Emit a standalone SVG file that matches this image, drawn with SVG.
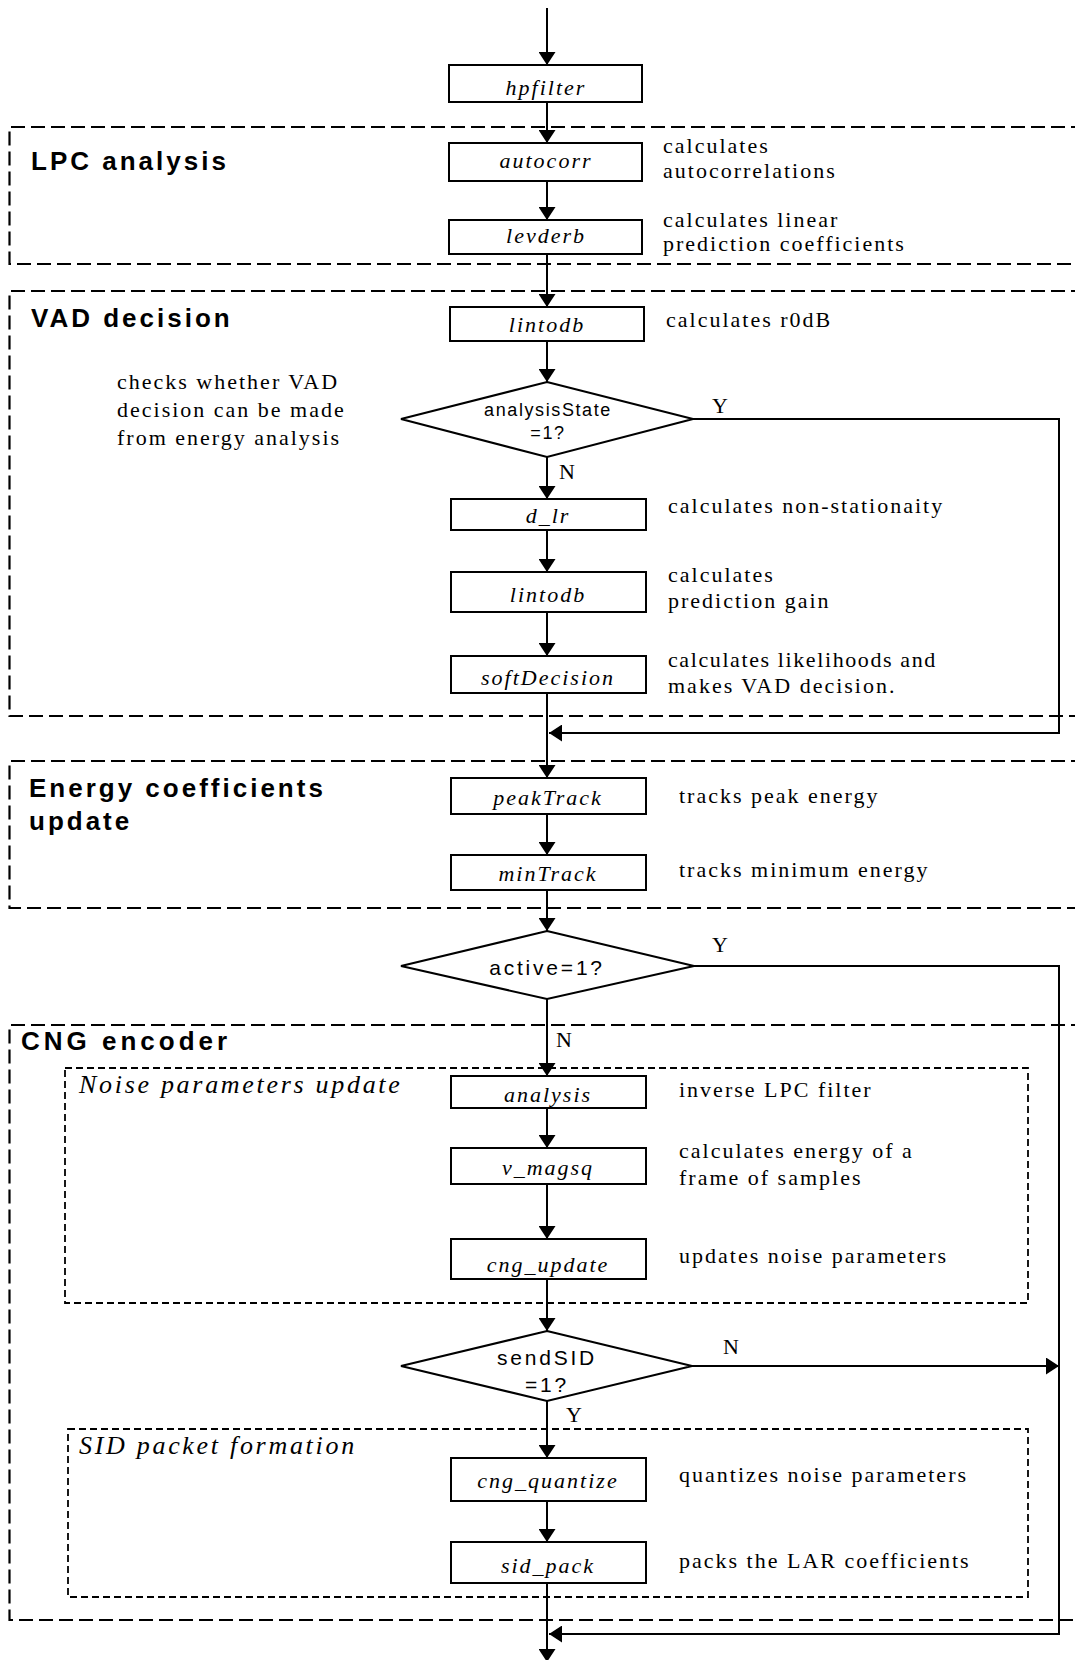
<svg xmlns="http://www.w3.org/2000/svg" width="1075" height="1660" viewBox="0 0 1075 1660">
  <defs>
    <marker id="arrow" markerUnits="userSpaceOnUse" markerWidth="17" markerHeight="17" viewBox="0 0 13 17" refX="13" refY="8.5" orient="auto">
      <path d="M0,0 L13,8.5 L0,17 z" fill="#000"/>
    </marker>
    <style>
      .section { fill: none; stroke: #000; stroke-width: 2.2; stroke-dasharray: 14 6; }
      .subsection { fill: none; stroke: #000; stroke-width: 1.8; stroke-dasharray: 7 4; }
      .box { fill: #fff; stroke: #000; stroke-width: 2; }
      .decision { fill: #fff; stroke: #000; stroke-width: 2; }
      .wire { fill: none; stroke: #000; stroke-width: 2; }
      .arrowed { marker-end: url(#arrow); }
      .title { font-family: "Liberation Sans", Arial, sans-serif; font-weight: bold; font-size: 26px; letter-spacing: 3px; fill: #000; }
      .subtitle { font-family: "Liberation Serif", "Times New Roman", serif; font-style: italic; font-size: 26px; letter-spacing: 2.7px; fill: #000; }
      .fn { font-family: "Liberation Serif", "Times New Roman", serif; font-style: italic; font-size: 22px; letter-spacing: 2px; text-anchor: middle; fill: #000; }
      .note { font-family: "Liberation Serif", "Times New Roman", serif; font-size: 22px; letter-spacing: 2px; fill: #000; }
      .cond { font-family: "Liberation Sans", Arial, sans-serif; font-size: 21px; letter-spacing: 2.8px; text-anchor: middle; fill: #000; }
      .cond-small { font-size: 18px; letter-spacing: 1.6px; }
      .yn { font-family: "Liberation Serif", "Times New Roman", serif; font-size: 22px; fill: #000; }
    </style>
  </defs>

  <!-- section frames (right side runs off the page) -->
  <g id="sections">
    <g id="sec-lpc">
      <path class="section" d="M1085,127 H9.5 V264 H1085"/>
      <text class="title" x="31" y="170">LPC analysis</text>
    </g>
    <g id="sec-vad">
      <path class="section" d="M1085,291 H9.5 V716 H1085"/>
      <text class="title" x="31" y="327">VAD decision</text>
      <text class="note" x="117" y="389">checks whether VAD</text>
      <text class="note" x="117" y="417">decision can be made</text>
      <text class="note" x="117" y="445">from energy analysis</text>
    </g>
    <g id="sec-energy">
      <path class="section" d="M1085,761 H9.5 V908 H1085"/>
      <text class="title" x="29" y="797">Energy coefficients</text>
      <text class="title" x="29" y="830">update</text>
    </g>
    <g id="sec-cng">
      <path class="section" d="M1085,1025 H9.5 V1620 H1085"/>
      <text class="title" x="21" y="1050" style="letter-spacing:4px">CNG encoder</text>
    </g>
    <g id="sec-noise">
      <rect class="subsection" x="65" y="1068" width="963" height="235"/>
      <text class="subtitle" x="79" y="1093">Noise parameters update</text>
    </g>
    <g id="sec-sid">
      <rect class="subsection" x="68" y="1429" width="960" height="168"/>
      <text class="subtitle" x="79" y="1454">SID packet formation</text>
    </g>
  </g>

  <!-- connectors -->
  <g id="connectors">
    <line class="wire arrowed" x1="547" y1="8" x2="547" y2="65"/>
    <line class="wire arrowed" x1="547" y1="102" x2="547" y2="143"/>
    <line class="wire arrowed" x1="547" y1="181" x2="547" y2="220"/>
    <line class="wire arrowed" x1="547" y1="254" x2="547" y2="307"/>
    <line class="wire arrowed" x1="547" y1="341" x2="547" y2="382"/>
    <line class="wire arrowed" x1="547" y1="457" x2="547" y2="499"/>
    <line class="wire arrowed" x1="547" y1="530" x2="547" y2="572"/>
    <line class="wire arrowed" x1="547" y1="612" x2="547" y2="656"/>
    <line class="wire arrowed" x1="547" y1="693" x2="547" y2="778"/>
    <polyline class="wire arrowed" points="693,419 1059,419 1059,733 549,733"/>
    <line class="wire arrowed" x1="547" y1="814" x2="547" y2="855"/>
    <line class="wire arrowed" x1="547" y1="890" x2="547" y2="931"/>
    <line class="wire arrowed" x1="547" y1="999" x2="547" y2="1076"/>
    <polyline class="wire arrowed" points="694,966 1059,966 1059,1634 549,1634"/>
    <line class="wire arrowed" x1="547" y1="1108" x2="547" y2="1148"/>
    <line class="wire arrowed" x1="547" y1="1184" x2="547" y2="1239"/>
    <line class="wire arrowed" x1="547" y1="1279" x2="547" y2="1331"/>
    <line class="wire arrowed" x1="692" y1="1366" x2="1059" y2="1366"/>
    <line class="wire arrowed" x1="547" y1="1401" x2="547" y2="1458"/>
    <line class="wire arrowed" x1="547" y1="1501" x2="547" y2="1542"/>
    <line class="wire arrowed" x1="547" y1="1583" x2="547" y2="1662"/>
    <text class="yn" x="712" y="413">Y</text>
    <text class="yn" x="559" y="479">N</text>
    <text class="yn" x="712" y="952">Y</text>
    <text class="yn" x="556" y="1047">N</text>
    <text class="yn" x="723" y="1354">N</text>
    <text class="yn" x="566" y="1422">Y</text>
  </g>

  <!-- processing blocks -->
  <g id="hpfilter">
    <rect class="box" x="449" y="65" width="193" height="37"/>
    <text class="fn" x="546" y="95">hpfilter</text>
  </g>
  <g id="autocorr">
    <rect class="box" x="449" y="143" width="193" height="38"/>
    <text class="fn" x="546" y="168">autocorr</text>
    <text class="note" x="663" y="153">calculates</text>
    <text class="note" x="663" y="178">autocorrelations</text>
  </g>
  <g id="levderb">
    <rect class="box" x="449" y="220" width="193" height="34"/>
    <text class="fn" x="546" y="243">levderb</text>
    <text class="note" x="663" y="227">calculates linear</text>
    <text class="note" x="663" y="251">prediction coefficients</text>
  </g>
  <g id="lintodb-r0db">
    <rect class="box" x="450" y="307" width="194" height="34"/>
    <text class="fn" x="547" y="332">lintodb</text>
    <text class="note" x="666" y="327">calculates  r0dB</text>
  </g>
  <g id="analysis-state">
    <polygon class="decision" points="547,382 693,419 547,457 401,419"/>
    <text class="cond cond-small" x="548" y="416">analysisState</text>
    <text class="cond cond-small" x="548" y="439">=1?</text>
  </g>
  <g id="d-lr">
    <rect class="box" x="451" y="499" width="195" height="31"/>
    <text class="fn" x="548" y="523">d_lr</text>
    <text class="note" x="668" y="513">calculates  non-stationaity</text>
  </g>
  <g id="lintodb-gain">
    <rect class="box" x="451" y="572" width="195" height="40"/>
    <text class="fn" x="548" y="602">lintodb</text>
    <text class="note" x="668" y="582">calculates</text>
    <text class="note" x="668" y="608">prediction gain</text>
  </g>
  <g id="soft-decision">
    <rect class="box" x="451" y="656" width="195" height="37"/>
    <text class="fn" x="548" y="685">softDecision</text>
    <text class="note" x="668" y="667" style="letter-spacing:1.6px">calculates likelihoods and</text>
    <text class="note" x="668" y="693">makes VAD decision.</text>
  </g>
  <g id="peak-track">
    <rect class="box" x="451" y="778" width="195" height="36"/>
    <text class="fn" x="548" y="805">peakTrack</text>
    <text class="note" x="679" y="803">tracks peak energy</text>
  </g>
  <g id="min-track">
    <rect class="box" x="451" y="855" width="195" height="35"/>
    <text class="fn" x="548" y="881">minTrack</text>
    <text class="note" x="679" y="877">tracks minimum energy</text>
  </g>
  <g id="active">
    <polygon class="decision" points="547,931 694,966 547,999 401,966"/>
    <text class="cond" x="547" y="975">active=1?</text>
  </g>
  <g id="analysis">
    <rect class="box" x="451" y="1076" width="195" height="32"/>
    <text class="fn" x="548" y="1102">analysis</text>
    <text class="note" x="679" y="1097">inverse LPC filter</text>
  </g>
  <g id="v-magsq">
    <rect class="box" x="451" y="1148" width="195" height="36"/>
    <text class="fn" x="548" y="1175">v_magsq</text>
    <text class="note" x="679" y="1158">calculates energy of a</text>
    <text class="note" x="679" y="1185">frame of samples</text>
  </g>
  <g id="cng-update">
    <rect class="box" x="451" y="1239" width="195" height="40"/>
    <text class="fn" x="548" y="1272">cng_update</text>
    <text class="note" x="679" y="1263">updates noise parameters</text>
  </g>
  <g id="send-sid">
    <polygon class="decision" points="547,1331 692,1366 547,1401 401,1366"/>
    <text class="cond" x="547" y="1365">sendSID</text>
    <text class="cond" x="547" y="1392">=1?</text>
  </g>
  <g id="cng-quantize">
    <rect class="box" x="451" y="1458" width="195" height="43"/>
    <text class="fn" x="548" y="1488">cng_quantize</text>
    <text class="note" x="679" y="1482">quantizes noise parameters</text>
  </g>
  <g id="sid-pack">
    <rect class="box" x="451" y="1542" width="195" height="41"/>
    <text class="fn" x="548" y="1573">sid_pack</text>
    <text class="note" x="679" y="1568">packs the LAR coefficients</text>
  </g>
</svg>
